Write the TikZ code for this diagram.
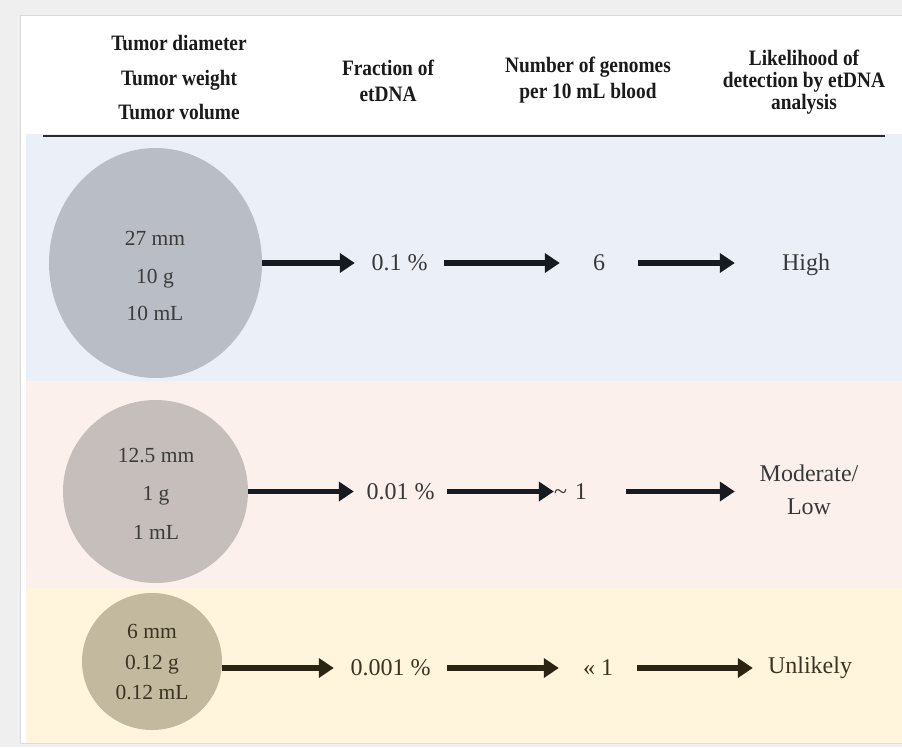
\documentclass[tikz,border=0pt]{standalone}
\usepackage{fontspec}
\setmainfont{Liberation Serif}
\newfontfamily\hdrfont{Liberation Serif}[FakeStretch=0.88]
\usetikzlibrary{arrows.meta,shapes.geometric}
\definecolor{outercol}{HTML}{EFEFEF}
\definecolor{framecol}{HTML}{DADADA}
\definecolor{blueband}{HTML}{EBF0F8}
\definecolor{pinkband}{HTML}{FBF0EC}
\definecolor{yellowband}{HTML}{FFF5DC}
\definecolor{circA}{HTML}{B9BDC6}
\definecolor{circB}{HTML}{C6BEBB}
\definecolor{circC}{HTML}{C3B99F}
\definecolor{arrowA}{HTML}{161B22}
\definecolor{arrowC}{HTML}{2B2413}
\definecolor{hdrcol}{HTML}{1A1A1A}
\definecolor{ctxt}{HTML}{3B3B3B}
\definecolor{ctxtC}{HTML}{3B3322}
\definecolor{vtxt}{HTML}{383838}
\definecolor{hline}{HTML}{2A2A2A}
\begin{document}
\begin{tikzpicture}[x=1pt,y=-1pt,
  hdr/.style={align=center, text=hdrcol, inner sep=0pt, font=\hdrfont\bfseries\fontsize{22}{#1}\selectfont},
  tumor/.style={ellipse, inner sep=0pt, draw=none},
  ctext/.style={align=center, inner sep=0pt, text=ctxt, font=\fontsize{21.5}{#1}\selectfont},
  val/.style={inner sep=0pt, minimum height=26pt, align=center, text=vtxt, font=\fontsize{24}{33}\selectfont},
  arr/.style={line width=5.5pt, color=#1, -{Triangle[length=15pt,width=19pt]}}]
\useasboundingbox (0,0) rectangle (902,747);
% background and panel
\fill[outercol] (0,0) rectangle (902,747);
\draw[framecol, line width=1pt, fill=white] (20.5,15.5) rectangle (904,743.5);
\fill[blueband] (26,134) rectangle (902,381);
\fill[pinkband] (26,381) rectangle (902,588);
\fill[yellowband] (26,588) rectangle (902,743);
\draw[hline, line width=2.5pt] (43,136) -- (885,136);
% header
\node[hdr=34.5] (h1) at (179,77.7) {Tumor diameter\\Tumor weight\\Tumor volume};
\node[hdr=26] (h2) at (388,81) {Fraction of\\etDNA};
\node[hdr=26.5] (h3) at (588,80) {Number of genomes\\per 10 mL blood};
\node[hdr=22] (h4) at (804,82) {Likelihood of\\detection by etDNA\\analysis};
% tumors
\node[tumor, fill=circA, minimum width=213pt, minimum height=230pt] (c1) at (155.5,263) {};
\node[ctext=37.5] (t1) at (155,276) {27 mm\\10 g\\10 mL};
\node[tumor, fill=circB, minimum width=185pt, minimum height=183pt] (c2) at (155.5,491.5) {};
\node[ctext=38.5] (t2) at (156,493.5) {12.5 mm\\1 g\\1 mL};
\node[tumor, fill=circC, minimum width=140pt, minimum height=137pt] (c3) at (152,661.5) {};
\node[ctext=30.5, text=ctxtC] (t3) at (152,662.5) {6 mm\\0.12 g\\0.12 mL};
% row 1
\node[val, minimum width=89pt] (v1) at (399.5,263) {0.1 \%};
\node[val, minimum width=78pt] (n1) at (599,263) {6};
\node[val, minimum width=142pt] (l1) at (806,264.5) {High};
\draw[arr=arrowA] (c1.east) -- (v1.west);
\draw[arr=arrowA] (v1.east) -- (n1.west);
\draw[arr=arrowA] (n1.east) -- (l1.west |- n1.east);
% row 2
\node[val, minimum width=93pt] (v2) at (400.5,491.5) {0.01 \%};
\node[val, text width=72pt, align=left] (n2) at (590,491.5) {\textasciitilde{} 1};
\node[val, minimum width=148pt] (l2) at (809,490) {Moderate/\\Low};
\draw[arr=arrowA] (c2.east) -- (v2.west);
\draw[arr=arrowA] (v2.east) -- (n2.west);
\draw[arr=arrowA] (n2.east) -- (l2.west |- n2.east);
% row 3
\node[val, minimum width=113pt, text=ctxtC] (v3) at (390.5,668) {0.001 \%};
\node[val, minimum width=78pt, text=ctxtC] (n3) at (598,668) {« 1};
\node[val, minimum width=114pt, text=ctxtC] (l3) at (810,668) {Unlikely};
\draw[arr=arrowC] (c3.east |- v3.west) -- (v3.west);
\draw[arr=arrowC] (v3.east) -- (n3.west);
\draw[arr=arrowC] (n3.east) -- (l3.west);
\end{tikzpicture}
\end{document}
